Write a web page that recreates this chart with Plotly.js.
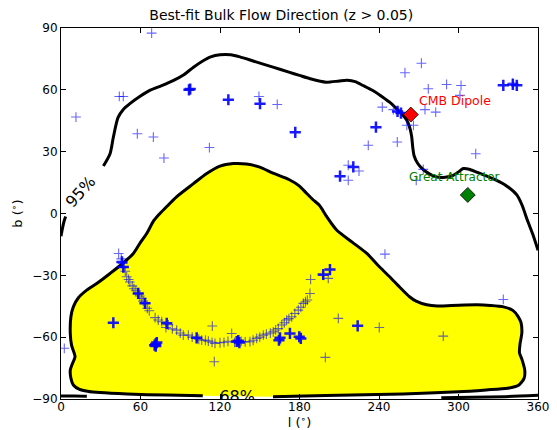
<!DOCTYPE html>
<html>
<head>
<meta charset="utf-8">
<script src="https://cdn.plot.ly/plotly-3.0.1.min.js"></script>
<style>html,body{margin:0;padding:0;background:#fff;}#chart{width:557px;height:430px;}</style>
</head>
<body>
<div id="chart"></div>
<script>
// ---- Data ----
const titleText = 'Best-fit Bulk Flow Direction (z > 0.05)';
const xTicks = [0, 60, 120, 180, 240, 300, 360];
const yTicks = [-90, -60, -30, 0, 30, 60, 90];

// 68% confidence contour (closed region, starts/ends at the label gap)
const contour68_l = [160,200,258,300,321,337,345,349.5,350,348,346,346.5,347.8,347.2,345,341,334,324,314,300,284,276,268,263,256,248,239,231,220,208,200,195,190,185,180,172,160,150,140,130,120,110,100,87,80,74.7,70,64.7,60,54.6,46,37,28,19.4,13,9.3,7.5,7,8,10.6,8.5,7,7.5,9.3,14,20,29.4,50,80,107];
const contour68_b = [-88.9,-88.3,-87.6,-86.5,-85.6,-84.8,-83.5,-80,-76,-71,-67.5,-63,-58,-53,-50,-47,-45.3,-44.6,-44.3,-44.5,-44.9,-44.3,-42.5,-40.4,-36,-30.7,-25,-19.5,-14,-8,-1,4,6.8,10,13.3,16.5,19.6,22.5,24,24.2,23,19.4,14.5,8,3.5,0,-3.5,-9.7,-14,-19.4,-24.5,-29.1,-33.5,-37.2,-41,-45.3,-50,-58.2,-64,-69.5,-73,-76,-80,-83.2,-85.3,-86.2,-86.9,-87.6,-88.1,-88.4];

// 95% confidence contour (segments separated by null)
const contour95_l = [32,37,39.5,43,47,52,60,67,76,85,93,100,107,113,120,128,135,145,160,172,180,188,200,210,216,222,228,235,241,248,253.4,258,261,263.5,264.7,265.5,266.5,269,273,278,283.5,290,296,300,303.6,308,313.7,320,328.8,336,344,348,352,356,360,
  null, 0,1,2.2,3.5,
  null, 0,10,19.5,
  null, 287,310,335,360];
const contour95_b = [23,29,37,46.5,50.5,53.3,57,59.7,62,64.6,67.5,71,74,76,77,77,76,74,71,68.6,67,65.4,63.7,64.3,64.6,64,62.1,59.8,57.3,54,50.8,47.8,45.2,41,37.1,32,28,24.5,21.5,19.2,17.7,17.6,18.5,20.2,21.8,21.5,20.1,18.5,16.1,13.5,9,4,-3.3,-10,-17.8,
  null, -11,-7.5,-4,-1.5,
  null, -88.6,-88.6,-88.7,
  null, -89.4,-89.2,-88.9,-88.2];

// Faint (light) best-fit directions
const faint_l = [68.4,11.3,44,47,149.4,163.2,57.6,69.7,112,77.7,272,259.6,277.2,291,301.9,340.9,301.1,242.5,250.8,274.7,282.8,261,266,253.8,231.9,313,216.8,224.9,216.8,273.4,268.1,2.5,114.2,115.7,209.3,199.5,244.5,240.2,288.5,333.8,
  43.5,45.5,46.5,47.5,48.5,49.6,51,52,53.8,55,56.5,58.3,59.5,60.9,62,63.4,65.1,66.6,71,73.4,76,79.2,81,84,87.3,90,92.3,96.1,99,102.4,104,106.2,109,111.2,114,116.2,120,123,126,128.8,131,136,139,142.6,145,147.7,150,152.7,155,158,160.2,162,164,166.6,168.5,170.3,172,174.1,176.5,179.1,181,182.9,184.5,185.9,187.9,188.4,201.7,198];
const faint_b = [87.5,46.8,56.8,56.8,56.8,52.9,38.7,37.1,32,26.9,72.9,68.3,60.5,62.6,62.1,63.3,57.3,51.6,50.4,50.4,49.2,42.8,42.8,34.7,33.1,29,23.4,20.6,16.1,21.4,16.1,-65.4,-54.6,-71.9,-50.9,-69.8,-19.7,-55.3,-59.5,-41.7,
  -19.4,-22,-24.2,-26.2,-28,-30.7,-32,-33.2,-35.1,-36.5,-37.5,-38.8,-40,-41.2,-42.5,-43.6,-46,-47.2,-50.5,-51.7,-52.5,-55.3,-54,-56,-56.6,-58,-59,-59,-60,-60.3,-61,-61.4,-61.5,-61.9,-62.5,-63,-62.7,-62.5,-62,-58.2,-62.5,-62,-62.3,-62.2,-61.5,-60.6,-60,-59,-58.5,-58,-57.4,-56.5,-55.8,-54.1,-53,-51.7,-51,-50.1,-48.5,-46.9,-45.5,-43.6,-42.8,-42,-38.8,-32,-31.5,-30];

// Strong (bold) best-fit directions
const strong_l = [96.6,97.5,126.3,150.2,176.8,237.7,256.6,254,220.6,210.6,333.8,341,344,39.5,71.5,72.3,70.7,71.5,47,46,58.3,63.4,79.8,102.4,133.8,134.6,132.6,165.3,164.5,172.8,179.8,181,197.9,203,223.9];
const strong_b = [60,60.4,55.2,53.3,39.4,41.9,48.7,49.5,22.6,18.1,62.2,62.6,62.2,-53,-63.3,-62.6,-63.9,-64.3,-26,-23.5,-38.8,-43.6,-53.3,-60.3,-61.7,-62.6,-62.1,-60.3,-61.5,-58.2,-59.8,-60.6,-29.6,-27.2,-54.5];

// Reference directions
const ref_names = ['CMB Dipole', 'Great Attractor'];
const ref_l = [264, 307];
const ref_b = [48, 9];
const ref_colors = ['#ff0000', '#008000'];

const labels68 = {text: '68%', l: 133, b: -89.4};
const labels95 = {text: '95%', l: 15, b: 10.5};

const FONT = 'DejaVu Sans, Liberation Sans, sans-serif';

const traces = [
  {x: contour68_l, y: contour68_b, type: 'scatter', mode: 'lines', fill: 'toself',
   fillcolor: '#ffff00', line: {width: 0, shape: 'spline', smoothing: 0.7}, hoverinfo: 'skip'},
  {x: contour68_l, y: contour68_b, type: 'scatter', mode: 'lines',
   line: {color: '#000', width: 3, shape: 'spline', smoothing: 0.7}},
  {x: contour95_l, y: contour95_b, type: 'scatter', mode: 'lines', connectgaps: false,
   line: {color: '#000', width: 3, shape: 'spline', smoothing: 0.7}},
  {x: [labels68.l], y: [labels68.b], type: 'scatter', mode: 'text', text: [labels68.text],
   textposition: 'middle center', textfont: {family: FONT, size: 16, color: '#000'}, cliponaxis: true},
  {x: faint_l, y: faint_b, type: 'scatter', mode: 'markers',
   marker: {symbol: 'cross-thin-open', size: 7, color: 'rgba(0,0,255,0.6)', line: {width: 1.1}}},
  {x: strong_l, y: strong_b, type: 'scatter', mode: 'markers',
   marker: {symbol: 'cross-thin-open', size: 8, color: 'rgba(0,0,255,0.9)', line: {width: 2.5}}},
  {x: ref_l, y: ref_b, type: 'scatter', mode: 'markers',
   marker: {symbol: 'diamond', size: 11.5, color: ref_colors, line: {width: 0.8, color: '#000'}}}
];

const axisCommon = {
  showgrid: false, zeroline: false, showline: true, linecolor: '#000', linewidth: 1,
  mirror: 'ticks', ticks: 'inside', ticklen: 5, tickwidth: 1, tickcolor: '#000',
  tickfont: {family: FONT, size: 12, color: '#000'}
};

const layout = {
  width: 557, height: 430,
  margin: {l: 61, r: 19, t: 28, b: 31},
  paper_bgcolor: '#fff', plot_bgcolor: '#fff',
  showlegend: false,
  font: {family: FONT, color: '#000'},
  title: {text: titleText, font: {family: FONT, size: 14, color: '#000'},
          x: 0.505, xref: 'container', xanchor: 'center', y: 0.965, yref: 'container', yanchor: 'middle'},
  xaxis: Object.assign({}, axisCommon, {range: [0, 360], tickvals: xTicks, ticklabelstandoff: -3,
    title: {text: 'l (<sup>∘</sup>)', font: {family: FONT, size: 13, color: '#000'}, standoff: 2}}),
  yaxis: Object.assign({}, axisCommon, {range: [-90, 90], tickvals: yTicks,
    title: {text: 'b (<sup>∘</sup>)', font: {family: FONT, size: 13, color: '#000'}, standoff: 6}}),
  annotations: [
    {x: ref_l[0] + 5, y: ref_b[0] + 7, xref: 'x', yref: 'y', text: ref_names[0], showarrow: false,
     xanchor: 'left', yanchor: 'middle', font: {family: FONT, size: 12.5, color: ref_colors[0]}},
    {x: ref_l[1] - 46, y: ref_b[1] + 8.5, xref: 'x', yref: 'y', text: ref_names[1], showarrow: false,
     xanchor: 'left', yanchor: 'middle', font: {family: FONT, size: 12, color: ref_colors[1]}},
    {x: labels95.l, y: labels95.b, xref: 'x', yref: 'y', text: labels95.text, showarrow: false,
     textangle: -48, xanchor: 'center', yanchor: 'middle', font: {family: FONT, size: 16, color: '#000'}}
  ]
};

Plotly.newPlot('chart', traces, layout, {displayModeBar: false, staticPlot: true});
</script>
</body>
</html>
